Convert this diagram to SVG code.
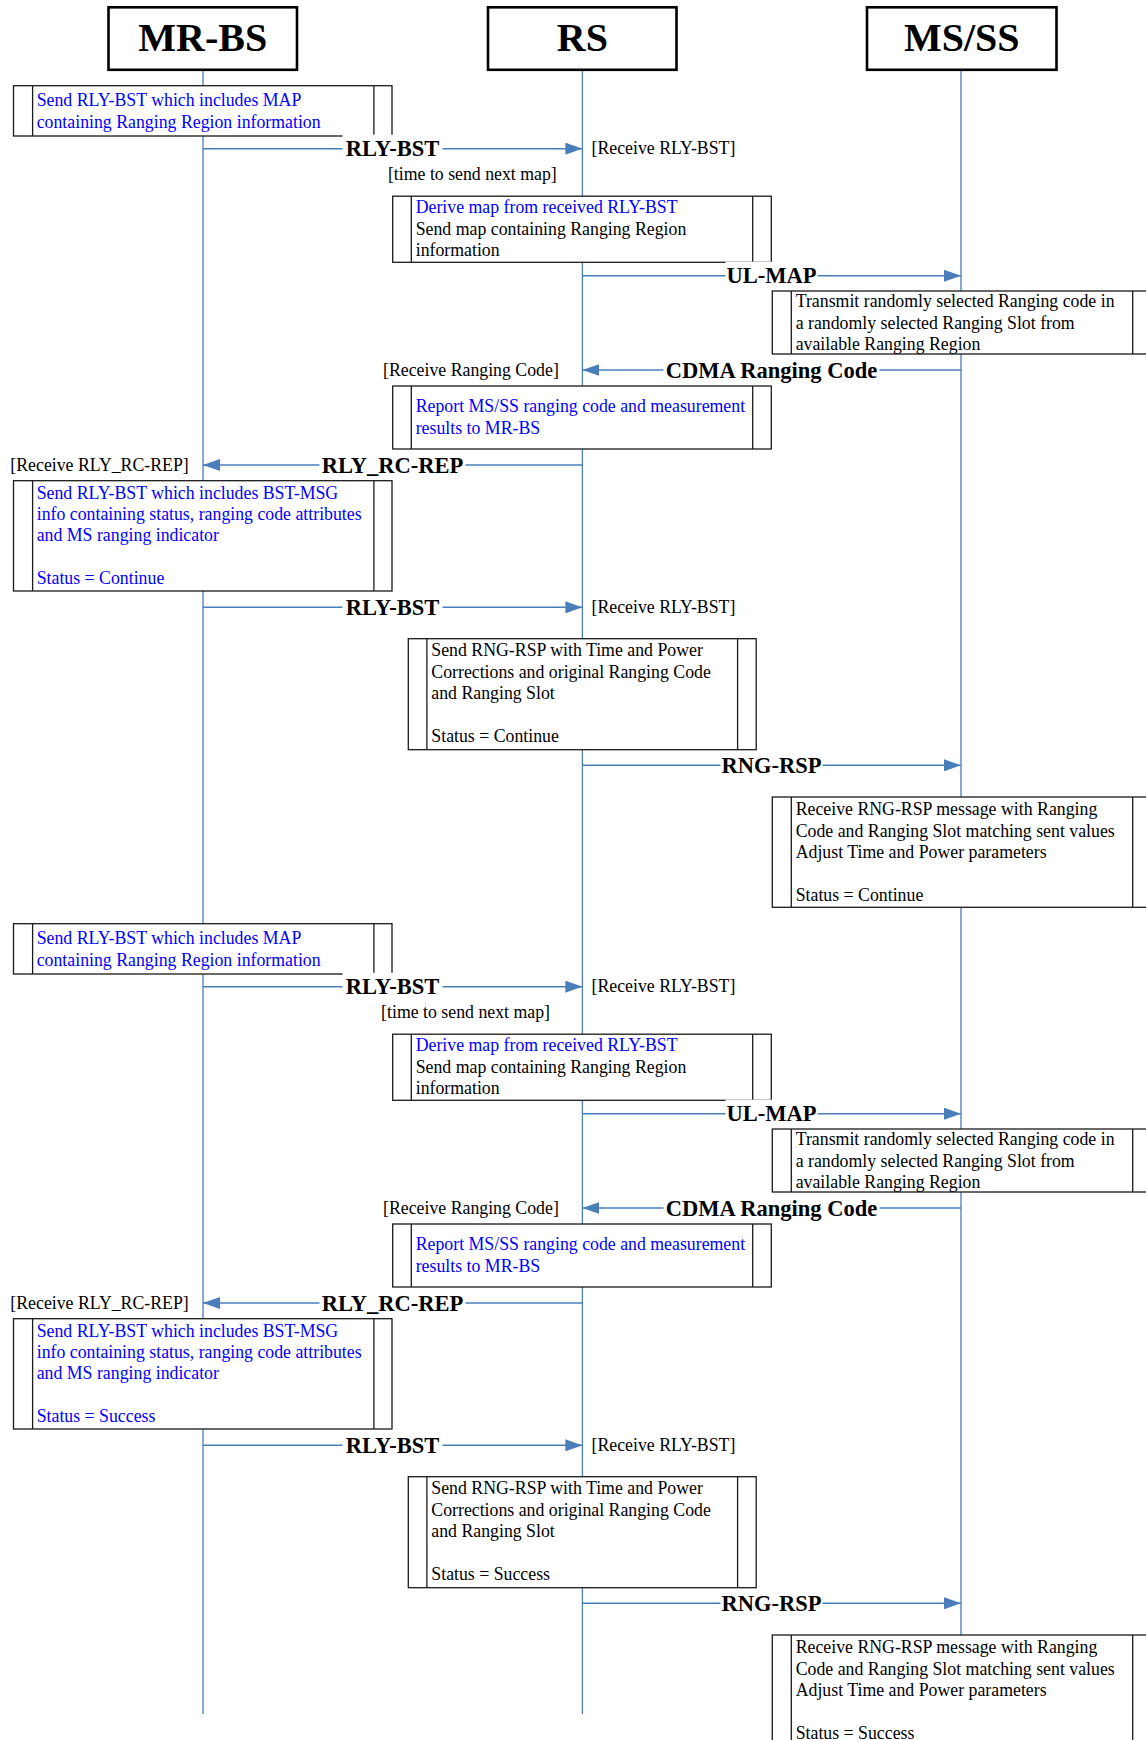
<svg xmlns="http://www.w3.org/2000/svg" width="1146" height="1740" viewBox="0 0 1146 1740">
<defs>
<style>
.hdr{fill:#fff;stroke:#000;stroke-width:2.6}
.hdrt{font-family:"Liberation Serif","Times New Roman",serif;font-weight:bold;font-size:40px;text-anchor:middle;fill:#000}
.life{stroke:#4a7ebb;stroke-width:1.3;fill:none}
.box{fill:#fff;stroke:#1a1a1a;stroke-width:1.3}
.dv{stroke:#1a1a1a;stroke-width:1.3}
.t{font-family:"Liberation Serif","Times New Roman",serif;font-size:17.8px;fill:#000}
.b{fill:#0000ff}
.e{text-anchor:end}
.msg{stroke:#4a7ebb;stroke-width:1.5;fill:none;marker-end:url(#ah)}
.lbg{fill:#fff}
.lbl{font-family:"Liberation Serif","Times New Roman",serif;font-weight:bold;font-size:22.5px;text-anchor:middle;fill:#000}
</style>
<marker id="ah" markerUnits="userSpaceOnUse" markerWidth="17" markerHeight="12" refX="17" refY="6" orient="auto"><path d="M0,0 L17,6 L0,12 z" fill="#4a7ebb"/></marker>
</defs>
<rect width="1146" height="1740" fill="#fff"/>

<g id="lifelines">
<line class="life" x1="203" y1="70" x2="203" y2="1714"/>
<line class="life" x1="582.4" y1="70" x2="582.4" y2="1714"/>
<line class="life" x1="961" y1="70" x2="961" y2="1714"/>
</g>

<g id="MR-BS"><rect class="hdr" x="108.5" y="7.3" width="188.5" height="62.5"/><text class="hdrt" x="202.8" y="50.5">MR-BS</text></g>
<g id="RS"><rect class="hdr" x="488" y="7.3" width="188.5" height="62.5"/><text class="hdrt" x="582.4" y="50.5">RS</text></g>
<g id="MS-SS"><rect class="hdr" x="867" y="7.3" width="189.5" height="62.5"/><text class="hdrt" x="961.7" y="50.5">MS/SS</text></g>

<g id="act1"><rect class="box" x="13.5" y="85.7" width="378.5" height="50.3"/><line class="dv" x1="32.6" y1="85.7" x2="32.6" y2="136"/><line class="dv" x1="373.9" y1="85.7" x2="373.9" y2="136"/>
<text class="t b" x="36.7" y="106.4">Send RLY-BST which includes MAP</text><text class="t b" x="36.7" y="127.6">containing Ranging Region information</text></g>

<g id="act2"><rect class="box" x="392.7" y="196.2" width="378.6" height="66.1"/><line class="dv" x1="411.3" y1="196.2" x2="411.3" y2="262.3"/><line class="dv" x1="752.7" y1="196.2" x2="752.7" y2="262.3"/>
<text class="t b" x="415.7" y="213.3">Derive map from received RLY-BST</text><text class="t" x="415.7" y="234.6">Send map containing Ranging Region</text><text class="t" x="415.7" y="255.9">information</text></g>

<g id="act3"><rect class="box" x="772.3" y="291" width="379.4" height="63"/><line class="dv" x1="791.3" y1="291" x2="791.3" y2="354"/><line class="dv" x1="1132.7" y1="291" x2="1132.7" y2="354"/>
<text class="t" x="795.7" y="307.3">Transmit randomly selected Ranging code in</text><text class="t" x="795.7" y="328.6">a randomly selected Ranging Slot from</text><text class="t" x="795.7" y="349.8">available Ranging Region</text></g>

<g id="act4"><rect class="box" x="392.7" y="386" width="378.6" height="63"/><line class="dv" x1="411.3" y1="386" x2="411.3" y2="449"/><line class="dv" x1="752.7" y1="386" x2="752.7" y2="449"/>
<text class="t b" x="415.7" y="412.3">Report MS/SS ranging code and measurement</text><text class="t b" x="415.7" y="433.6">results to MR-BS</text></g>

<g id="act5"><rect class="box" x="13.5" y="480.7" width="378.5" height="110.3"/><line class="dv" x1="32.6" y1="480.7" x2="32.6" y2="591"/><line class="dv" x1="373.9" y1="480.7" x2="373.9" y2="591"/>
<text class="t b" x="36.7" y="498.8">Send RLY-BST which includes BST-MSG</text><text class="t b" x="36.7" y="520.1">info containing status, ranging code attributes</text><text class="t b" x="36.7" y="541.4">and MS ranging indicator</text><text class="t b" x="36.7" y="584">Status = Continue</text></g>

<g id="act6"><rect class="box" x="408.3" y="638.7" width="347.9" height="111"/><line class="dv" x1="426.9" y1="638.7" x2="426.9" y2="749.7"/><line class="dv" x1="737.6" y1="638.7" x2="737.6" y2="749.7"/>
<text class="t" x="431.3" y="656.4">Send RNG-RSP with Time and Power</text><text class="t" x="431.3" y="677.7">Corrections and original Ranging Code</text><text class="t" x="431.3" y="699">and Ranging Slot</text><text class="t" x="431.3" y="741.6">Status = Continue</text></g>

<g id="act7"><rect class="box" x="772.3" y="797" width="379.4" height="110.3"/><line class="dv" x1="791.3" y1="797" x2="791.3" y2="907.3"/><line class="dv" x1="1132.7" y1="797" x2="1132.7" y2="907.3"/>
<text class="t" x="795.7" y="815.3">Receive RNG-RSP message with Ranging</text><text class="t" x="795.7" y="836.6">Code and Ranging Slot matching sent values</text><text class="t" x="795.7" y="857.9">Adjust Time and Power parameters</text><text class="t" x="795.7" y="900.5">Status = Continue</text></g>

<g id="act8"><rect class="box" x="13.5" y="923.7" width="378.5" height="50.3"/><line class="dv" x1="32.6" y1="923.7" x2="32.6" y2="974"/><line class="dv" x1="373.9" y1="923.7" x2="373.9" y2="974"/>
<text class="t b" x="36.7" y="944.4">Send RLY-BST which includes MAP</text><text class="t b" x="36.7" y="965.6">containing Ranging Region information</text></g>

<g id="act9"><rect class="box" x="392.7" y="1034.2" width="378.6" height="66.1"/><line class="dv" x1="411.3" y1="1034.2" x2="411.3" y2="1100.3"/><line class="dv" x1="752.7" y1="1034.2" x2="752.7" y2="1100.3"/>
<text class="t b" x="415.7" y="1051.3">Derive map from received RLY-BST</text><text class="t" x="415.7" y="1072.6">Send map containing Ranging Region</text><text class="t" x="415.7" y="1093.9">information</text></g>

<g id="act10"><rect class="box" x="772.3" y="1129" width="379.4" height="63"/><line class="dv" x1="791.3" y1="1129" x2="791.3" y2="1192"/><line class="dv" x1="1132.7" y1="1129" x2="1132.7" y2="1192"/>
<text class="t" x="795.7" y="1145.3">Transmit randomly selected Ranging code in</text><text class="t" x="795.7" y="1166.6">a randomly selected Ranging Slot from</text><text class="t" x="795.7" y="1187.8">available Ranging Region</text></g>

<g id="act11"><rect class="box" x="392.7" y="1224" width="378.6" height="63"/><line class="dv" x1="411.3" y1="1224" x2="411.3" y2="1287"/><line class="dv" x1="752.7" y1="1224" x2="752.7" y2="1287"/>
<text class="t b" x="415.7" y="1250.3">Report MS/SS ranging code and measurement</text><text class="t b" x="415.7" y="1271.6">results to MR-BS</text></g>

<g id="act12"><rect class="box" x="13.5" y="1318.7" width="378.5" height="110.3"/><line class="dv" x1="32.6" y1="1318.7" x2="32.6" y2="1429"/><line class="dv" x1="373.9" y1="1318.7" x2="373.9" y2="1429"/>
<text class="t b" x="36.7" y="1336.8">Send RLY-BST which includes BST-MSG</text><text class="t b" x="36.7" y="1358.1">info containing status, ranging code attributes</text><text class="t b" x="36.7" y="1379.4">and MS ranging indicator</text><text class="t b" x="36.7" y="1422">Status = Success</text></g>

<g id="act13"><rect class="box" x="408.3" y="1476.7" width="347.9" height="111"/><line class="dv" x1="426.9" y1="1476.7" x2="426.9" y2="1587.7"/><line class="dv" x1="737.6" y1="1476.7" x2="737.6" y2="1587.7"/>
<text class="t" x="431.3" y="1494.4">Send RNG-RSP with Time and Power</text><text class="t" x="431.3" y="1515.7">Corrections and original Ranging Code</text><text class="t" x="431.3" y="1537">and Ranging Slot</text><text class="t" x="431.3" y="1579.6">Status = Success</text></g>

<g id="act14"><rect class="box" x="772.3" y="1635" width="379.4" height="110.3"/><line class="dv" x1="791.3" y1="1635" x2="791.3" y2="1745.3"/><line class="dv" x1="1132.7" y1="1635" x2="1132.7" y2="1745.3"/>
<text class="t" x="795.7" y="1653.3">Receive RNG-RSP message with Ranging</text><text class="t" x="795.7" y="1674.6">Code and Ranging Slot matching sent values</text><text class="t" x="795.7" y="1695.9">Adjust Time and Power parameters</text><text class="t" x="795.7" y="1738.5">Status = Success</text></g>

<g id="connectors">
<line class="msg" x1="203" y1="148.7" x2="582.4" y2="148.7"/><rect class="lbg" x="342.5" y="134.7" width="100" height="28"/><text class="lbl" x="392.5" y="156.2">RLY-BST</text>
<line class="msg" x1="582.4" y1="275.7" x2="961" y2="275.7"/><rect class="lbg" x="725.5" y="261.7" width="92" height="28"/><text class="lbl" x="771.5" y="283.2">UL-MAP</text>
<line class="msg" x1="961" y1="370" x2="582.4" y2="370"/><rect class="lbg" x="663.5" y="356" width="216" height="28"/><text class="lbl" x="771.5" y="377.5">CDMA Ranging Code</text>
<line class="msg" x1="582.4" y1="465" x2="203" y2="465"/><rect class="lbg" x="319.5" y="451" width="146" height="28"/><text class="lbl" x="392.5" y="472.5">RLY_RC-REP</text>
<line class="msg" x1="203" y1="607.3" x2="582.4" y2="607.3"/><rect class="lbg" x="342.5" y="593.3" width="100" height="28"/><text class="lbl" x="392.5" y="614.8">RLY-BST</text>
<line class="msg" x1="582.4" y1="765.3" x2="961" y2="765.3"/><rect class="lbg" x="720.5" y="751.3" width="102" height="28"/><text class="lbl" x="771.5" y="772.8">RNG-RSP</text>
<line class="msg" x1="203" y1="986.7" x2="582.4" y2="986.7"/><rect class="lbg" x="342.5" y="972.7" width="100" height="28"/><text class="lbl" x="392.5" y="994.2">RLY-BST</text>
<line class="msg" x1="582.4" y1="1113.7" x2="961" y2="1113.7"/><rect class="lbg" x="725.5" y="1099.7" width="92" height="28"/><text class="lbl" x="771.5" y="1121.2">UL-MAP</text>
<line class="msg" x1="961" y1="1208" x2="582.4" y2="1208"/><rect class="lbg" x="663.5" y="1194" width="216" height="28"/><text class="lbl" x="771.5" y="1215.5">CDMA Ranging Code</text>
<line class="msg" x1="582.4" y1="1303" x2="203" y2="1303"/><rect class="lbg" x="319.5" y="1289" width="146" height="28"/><text class="lbl" x="392.5" y="1310.5">RLY_RC-REP</text>
<line class="msg" x1="203" y1="1445.3" x2="582.4" y2="1445.3"/><rect class="lbg" x="342.5" y="1431.3" width="100" height="28"/><text class="lbl" x="392.5" y="1452.8">RLY-BST</text>
<line class="msg" x1="582.4" y1="1603.3" x2="961" y2="1603.3"/><rect class="lbg" x="720.5" y="1589.3" width="102" height="28"/><text class="lbl" x="771.5" y="1610.8">RNG-RSP</text>
</g>

<g id="notes">
<text class="t" x="591.5" y="154.2">[Receive RLY-BST]</text>
<text class="t e" x="556.8" y="179.7">[time to send next map]</text>
<text class="t e" x="558.8" y="375.5">[Receive Ranging Code]</text>
<text class="t e" x="188.8" y="470.5">[Receive RLY_RC-REP]</text>
<text class="t" x="591.5" y="612.8">[Receive RLY-BST]</text>
<text class="t" x="591.5" y="992.2">[Receive RLY-BST]</text>
<text class="t e" x="550" y="1017.5">[time to send next map]</text>
<text class="t e" x="558.8" y="1213.5">[Receive Ranging Code]</text>
<text class="t e" x="188.8" y="1308.5">[Receive RLY_RC-REP]</text>
<text class="t" x="591.5" y="1450.8">[Receive RLY-BST]</text>
</g>
</svg>
